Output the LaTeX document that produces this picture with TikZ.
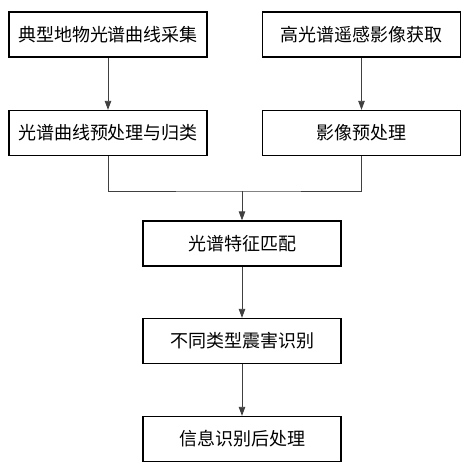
\documentclass[tikz,border=0pt]{standalone}
\usepackage{fontspec}
\setmainfont{Noto Sans CJK SC}
\usetikzlibrary{arrows.meta}
\begin{document}
\begin{tikzpicture}[x=1pt,y=-1pt,
  box/.style={draw=black,line width=1.3pt,minimum width=198pt,minimum height=45pt,inner sep=0pt,font=\fontsize{18pt}{20pt}\selectfont,anchor=center},
  conn/.style={draw=black!75,line width=0.8pt},
  arr/.style={conn,-{Triangle[length=9pt,width=6.5pt]}}]
\useasboundingbox (0,0) rectangle (469,467);
\node[box] (a) at (108,34.5) {典型地物光谱曲线采集};
\node[box] (b) at (361.5,34.5) {高光谱遥感影像获取};
\node[box] (c) at (108,133) {光谱曲线预处理与归类};
\node[box] (d) at (361.5,133) {影像预处理};
\node[box] (e) at (242,243.5) {光谱特征匹配};
\node[box] (f) at (242,341) {不同类型震害识别};
\node[box] (g) at (242,439) {信息识别后处理};
\coordinate (j) at (242,191);
\draw[arr] (a) -- (c);
\draw[arr] (b) -- (d);
\draw[conn] (c.south) |- (j) -| (d.south);
\draw[arr] (j) -- (e);
\draw[arr] (e) -- (f);
\draw[arr] (f) -- (g);
\end{tikzpicture}
\end{document}
